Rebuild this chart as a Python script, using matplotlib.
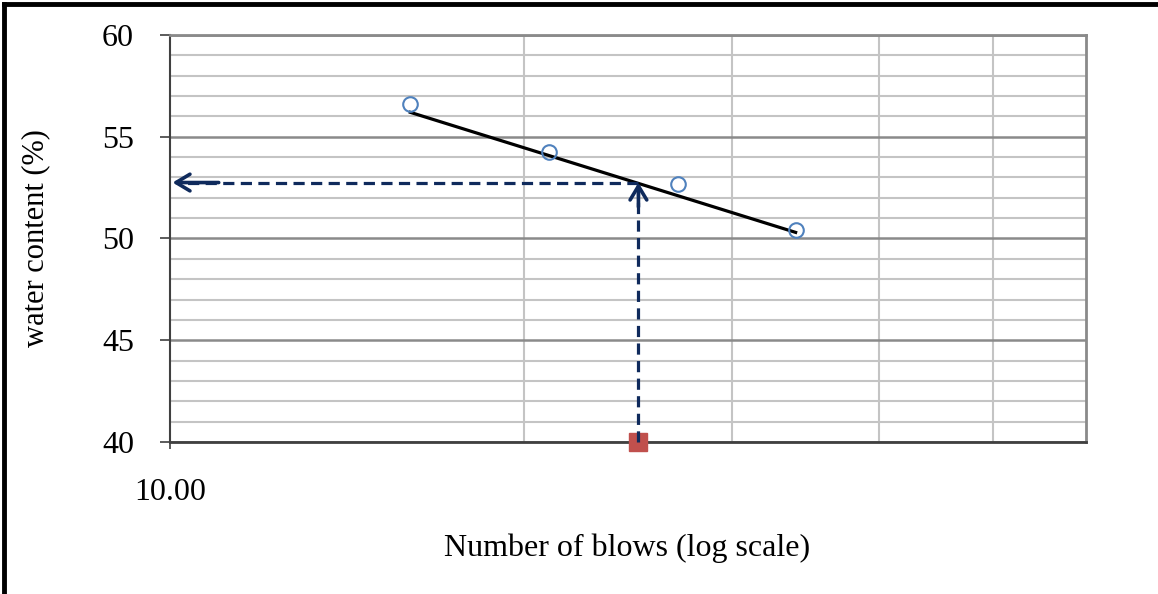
import matplotlib.pyplot as plt
from matplotlib.lines import Line2D
from matplotlib.ticker import FixedLocator, MultipleLocator, NullFormatter

plt.rcParams['font.family'] = ['Liberation Serif', 'DejaVu Serif']

# data
blows = [16, 21, 27, 34]
water = [56.6, 54.25, 52.68, 50.42]
trend_x = [16, 34]
trend_y = [56.2, 50.3]
n25 = 25
ll = 52.75
x_grid = [20, 30, 40, 50]

fig = plt.figure(figsize=(11.58, 5.94), dpi=100, facecolor='white')
ax = fig.add_axes([170 / 1158, 1 - 442 / 594, 916 / 1158, 407 / 594])

ax.set_xscale('log')
ax.set_xlim(10, 60)
ax.set_ylim(40, 60)

# gridlines
ax.xaxis.set_major_locator(FixedLocator([10]))
ax.xaxis.set_minor_locator(FixedLocator(x_grid))
ax.xaxis.set_minor_formatter(NullFormatter())
ax.xaxis.set_major_formatter(lambda v, p: '%.2f' % v)
ax.yaxis.set_major_locator(MultipleLocator(5))
ax.yaxis.set_minor_locator(MultipleLocator(1))
ax.grid(True, axis='y', which='minor', color='#c4c4c4', lw=1.5, zorder=0)
ax.grid(True, axis='y', which='major', color='#8a8a8a', lw=1.8, zorder=0)
ax.grid(True, axis='x', which='minor', color='#c4c4c4', lw=1.5, zorder=0)

ax.tick_params(axis='y', which='major', direction='out', length=7, width=1.2,
               labelsize=23, pad=19, color='#404040')
ax.tick_params(axis='y', which='minor', length=0)
ax.tick_params(axis='x', which='major', direction='out', length=5, width=1.2,
               labelsize=23, pad=21, color='#404040')
ax.tick_params(axis='x', which='minor', length=0)

for side in ['top', 'right']:
    ax.spines[side].set_color('#8a8a8a')
    ax.spines[side].set_linewidth(2)
ax.spines['left'].set_color('#404040')
ax.spines['left'].set_linewidth(1.5)
ax.spines['bottom'].set_color('#404040')
ax.spines['bottom'].set_linewidth(2)

# data points and trend line
ax.plot(blows, water, 'o', ms=10.5, mfc='none', mec='#4f81bd', mew=1.5, zorder=4)
ax.plot(trend_x, trend_y, color='black', lw=2.3, zorder=3)

# liquid limit construction
navy = '#0f2a5c'
arrow = dict(arrowstyle='->,head_length=1.0,head_width=0.6',
             color=navy, lw=2.6, shrinkA=0, shrinkB=0)
ax.plot(n25, 40, 's', ms=13, color='#c0504d', clip_on=False, zorder=5)
ax.plot([n25, n25], [40, ll - 0.3], ls=(0, (3.5, 2)), color=navy, lw=2.3, zorder=6,
        clip_on=False)
ax.plot([n25, 10.2], [ll, ll], ls=(0, (3.5, 2)), color=navy, lw=2.3, zorder=6)
ax.annotate('', xy=(n25, ll), xytext=(n25, ll - 1.2), arrowprops=arrow, zorder=6)
ax.annotate('', xy=(10.05, ll), xytext=(11, ll), arrowprops=arrow, zorder=6)

ax.set_ylabel('water content (%)', fontsize=22, labelpad=37)
fig.text(627 / 1158, 1 - 548 / 594, 'Number of blows (log scale)', fontsize=23,
         ha='center', va='center')

# chart border (top and left)
fig.add_artist(Line2D([4 / 1158, 4 / 1158], [0, 1 - 4 / 594], color='black', lw=3.5))
fig.add_artist(Line2D([4 / 1158, 1], [1 - 4 / 594, 1 - 4 / 594], color='black', lw=3.5))

fig.savefig('out.png', dpi=100, facecolor='white')
